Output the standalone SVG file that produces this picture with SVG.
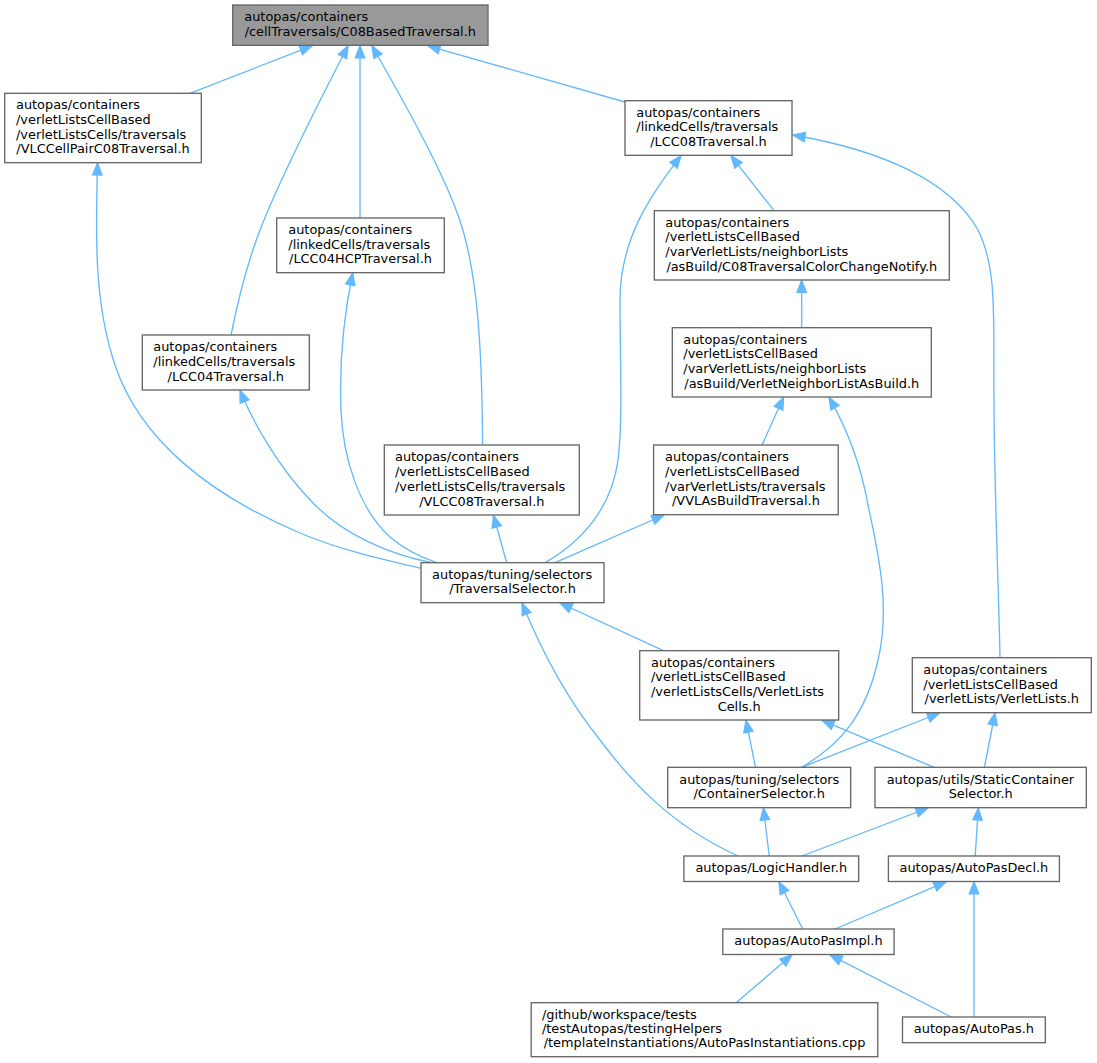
<svg xmlns="http://www.w3.org/2000/svg" width="1097" height="1063" viewBox="0 0 1097 1063">
<style>
.node rect{fill:#ffffff;stroke:#666666;stroke-width:1.33}
.root rect{fill:#999999}
text{font-family:"DejaVu Sans","Liberation Sans",sans-serif;font-size:12.9px;fill:#000000}
.m{text-anchor:middle}
.edges path{fill:none;stroke:#63b8ff;stroke-width:1.33;marker-start:url(#arr)}
</style>
<defs>
<marker id="arr" markerUnits="userSpaceOnUse" markerWidth="16" markerHeight="14" refX="12" refY="4.7" orient="auto-start-reverse" overflow="visible">
<path d="M0,0 L12,4.7 L0,9.4 z" fill="#63b8ff" stroke="#63b8ff" stroke-width="1.33"/>
</marker>
</defs>
<rect width="1097" height="1063" fill="#ffffff"/>
<g class="edges" id="edges">
<path d="M312,45.8 L190,93.3"/>
<path d="M348,45.8 C320,100 280,180 262,225 C248,260 238,300 231,335"/>
<path d="M360,45.8 L360,218"/>
<path d="M372,45.8 C400,95 440,165 458,215 C478,270 482,350 482.6,445"/>
<path d="M428,45.8 L625,102"/>
<path d="M681,155.8 C650,195 620,240 620,300 C620,360 623,420 618,460 C612,505 585,540 545,562.7"/>
<path d="M731,155.8 L774,210.7"/>
<path d="M793,135 C880,150 950,180 978,230 C998,270 993,320 994,400 C994,480 999,600 1000,657.7"/>
<path d="M801.7,280.3 L801.7,327.7"/>
<path d="M783.5,397.3 L762,445"/>
<path d="M829,397.3 C845,425 860,460 868,505 C880,560 890,610 878,660 C866,715 840,745 801.7,767.3"/>
<path d="M664,515 L555,562.7"/>
<path d="M493.5,515.3 L506.7,562.7"/>
<path d="M97.5,163 C96,230 93,300 115,365 C140,440 210,495 300,533 C340,550 385,560 421,568.3"/>
<path d="M240,390.3 C252,420 278,468 315,505 C345,535 390,555 432,562.7"/>
<path d="M352.7,273 C345,310 339,360 341,410 C343,460 360,510 390,537 C405,550 420,557 437,562.7"/>
<path d="M560,603 L663.4,650.7"/>
<path d="M522,603 C535,635 560,690 600,740 C630,780 670,825 738,856"/>
<path d="M746,720.3 L755.5,767.3"/>
<path d="M822,720.3 L934,767.3"/>
<path d="M939.5,713 L801.7,767.3"/>
<path d="M995,713 L984.4,767.3"/>
<path d="M763.5,808 L769.2,856"/>
<path d="M928,808 L802,856"/>
<path d="M978.3,808 L975.2,856"/>
<path d="M779,881.8 L802.7,929"/>
<path d="M946,881.8 L835.1,929"/>
<path d="M974,881.8 L974,1017"/>
<path d="M792,954.8 L736.1,1002.7"/>
<path d="M830,954.8 L951.3,1017"/>
</g>
<g class="node root" id="node_C08BasedTraversal">
<rect x="232.7" y="5" width="255.3" height="40.3"/>
<text x="244.3" y="21.4">autopas/containers</text>
<text class="m" x="360.3" y="36">/cellTraversals/C08BasedTraversal.h</text>
</g>
<g class="node" id="node_VLCCellPairC08Traversal">
<rect x="4.7" y="93.3" width="196.6" height="69.4"/>
<text x="16" y="109.4">autopas/containers</text>
<text x="16" y="124">/verletListsCellBased</text>
<text x="16" y="138.7">/verletListsCells/traversals</text>
<text class="m" x="103" y="153.4">/VLCCellPairC08Traversal.h</text>
</g>
<g class="node" id="node_LCC08Traversal">
<rect x="625" y="100.7" width="167" height="54.6"/>
<text x="636.3" y="116.7">autopas/containers</text>
<text x="636.3" y="131.3">/linkedCells/traversals</text>
<text class="m" x="708.5" y="146">/LCC08Traversal.h</text>
</g>
<g class="node" id="node_LCC04HCPTraversal">
<rect x="276.7" y="218" width="167.6" height="54.7"/>
<text x="288.3" y="234.1">autopas/containers</text>
<text x="288.3" y="248.7">/linkedCells/traversals</text>
<text class="m" x="360.5" y="263.4">/LCC04HCPTraversal.h</text>
</g>
<g class="node" id="node_C08TraversalColorChangeNotify">
<rect x="654.3" y="210.7" width="295" height="69.3"/>
<text x="665.3" y="226.7">autopas/containers</text>
<text x="665.3" y="241.3">/verletListsCellBased</text>
<text x="665.3" y="256">/varVerletLists/neighborLists</text>
<text class="m" x="801.8" y="270.7">/asBuild/C08TraversalColorChangeNotify.h</text>
</g>
<g class="node" id="node_LCC04Traversal">
<rect x="142.3" y="335" width="167" height="55"/>
<text x="153.3" y="351.4">autopas/containers</text>
<text x="153.3" y="366">/linkedCells/traversals</text>
<text class="m" x="225.8" y="380.7">/LCC04Traversal.h</text>
</g>
<g class="node" id="node_VerletNeighborListAsBuild">
<rect x="672.3" y="327.7" width="259" height="69.3"/>
<text x="683.3" y="343.7">autopas/containers</text>
<text x="683.3" y="358.3">/verletListsCellBased</text>
<text x="683.3" y="373">/varVerletLists/neighborLists</text>
<text class="m" x="801.8" y="387.7">/asBuild/VerletNeighborListAsBuild.h</text>
</g>
<g class="node" id="node_VLCC08Traversal">
<rect x="384.3" y="445" width="195" height="70"/>
<text x="395" y="461.4">autopas/containers</text>
<text x="395" y="476">/verletListsCellBased</text>
<text x="395" y="490.7">/verletListsCells/traversals</text>
<text class="m" x="481.8" y="505.7">/VLCC08Traversal.h</text>
</g>
<g class="node" id="node_VVLAsBuildTraversal">
<rect x="653.6" y="445" width="184.6" height="69.7"/>
<text x="665.1" y="461.3">autopas/containers</text>
<text x="665.1" y="476">/verletListsCellBased</text>
<text x="665.1" y="490.7">/varVerletLists/traversals</text>
<text class="m" x="745.9" y="505.4">/VVLAsBuildTraversal.h</text>
</g>
<g class="node" id="node_TraversalSelector">
<rect x="421" y="562.7" width="183" height="40"/>
<text x="432.1" y="578.7">autopas/tuning/selectors</text>
<text class="m" x="512.5" y="593.4">/TraversalSelector.h</text>
</g>
<g class="node" id="node_VerletListsCells">
<rect x="639.7" y="650.7" width="199" height="69.3"/>
<text x="651" y="666.7">autopas/containers</text>
<text x="651" y="681.4">/verletListsCellBased</text>
<text x="651" y="696">/verletListsCells/VerletLists</text>
<text class="m" x="739.2" y="710.7">Cells.h</text>
</g>
<g class="node" id="node_VerletLists">
<rect x="912.3" y="657.7" width="179" height="55"/>
<text x="923.3" y="674">autopas/containers</text>
<text x="923.3" y="688.7">/verletListsCellBased</text>
<text class="m" x="1001.8" y="703.4">/verletLists/VerletLists.h</text>
</g>
<g class="node" id="node_ContainerSelector">
<rect x="667.7" y="767.3" width="183" height="40.4"/>
<text x="679.3" y="783.7">autopas/tuning/selectors</text>
<text class="m" x="759.2" y="798.4">/ContainerSelector.h</text>
</g>
<g class="node" id="node_StaticContainerSelector">
<rect x="875" y="767.3" width="211.3" height="40.4"/>
<text x="886.7" y="783.7">autopas/utils/StaticContainer</text>
<text class="m" x="980.7" y="798.4">Selector.h</text>
</g>
<g class="node" id="node_LogicHandler">
<rect x="683.9" y="856" width="174.8" height="25.5"/>
<text class="m" x="771.3" y="872.2">autopas/LogicHandler.h</text>
</g>
<g class="node" id="node_AutoPasDecl">
<rect x="888.4" y="856" width="171" height="25.5"/>
<text class="m" x="973.9" y="872.2">autopas/AutoPasDecl.h</text>
</g>
<g class="node" id="node_AutoPasImpl">
<rect x="722.8" y="929" width="171.3" height="25.5"/>
<text class="m" x="808.5" y="945.2">autopas/AutoPasImpl.h</text>
</g>
<g class="node" id="node_AutoPasInstantiations">
<rect x="531.2" y="1002.7" width="346.6" height="54"/>
<text x="541.9" y="1018.7">/github/workspace/tests</text>
<text x="541.9" y="1033.4">/testAutopas/testingHelpers</text>
<text class="m" x="704.5" y="1047.4">/templateInstantiations/AutoPasInstantiations.cpp</text>
</g>
<g class="node" id="node_AutoPas">
<rect x="902.5" y="1017" width="142.8" height="25.7"/>
<text class="m" x="973.9" y="1033.4">autopas/AutoPas.h</text>
</g>
</svg>
